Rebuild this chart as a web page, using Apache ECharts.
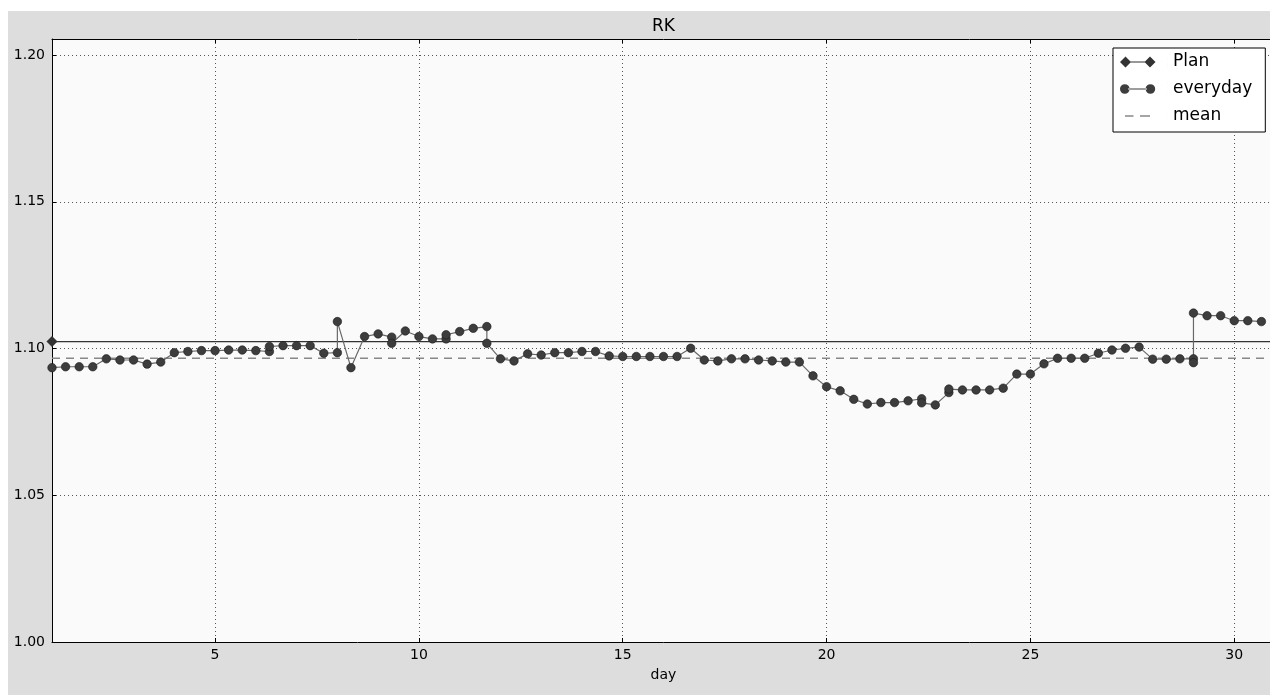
<!DOCTYPE html>
<html>
<head>
<meta charset="utf-8">
<script src="https://cdn.jsdelivr.net/npm/echarts@6/dist/echarts.min.js"></script>
<style>
  html, body { margin: 0; padding: 0; background: #ffffff; width: 1270px; height: 695px; overflow: hidden; position: relative; }
  #chart { position: absolute; left: 8px; top: 11px; width: 1267px; height: 684px; background: #dddddd; }
</style>
</head>
<body>
<div id="chart"></div>
<script>
// ---- data ----
const days = [
  1.000, 1.333, 1.667, 2.000, 2.333, 2.667, 3.000, 3.333, 3.667, 4.000,
  4.333, 4.667, 5.000, 5.333, 5.667, 6.000, 6.333, 6.333, 6.667, 7.000,
  7.333, 7.667, 8.000, 8.000, 8.333, 8.667, 9.000, 9.333, 9.333, 9.667,
  10.000, 10.333, 10.667, 10.667, 11.000, 11.333, 11.667, 11.667, 12.000, 12.333,
  12.667, 13.000, 13.333, 13.667, 14.000, 14.333, 14.667, 15.000, 15.333, 15.667,
  16.000, 16.333, 16.667, 17.000, 17.333, 17.667, 18.000, 18.333, 18.667, 19.000,
  19.333, 19.667, 20.000, 20.333, 20.667, 21.000, 21.333, 21.667, 22.000, 22.333,
  22.333, 22.667, 23.000, 23.000, 23.333, 23.667, 24.000, 24.333, 24.667, 25.000,
  25.333, 25.667, 26.000, 26.333, 26.667, 27.000, 27.333, 27.667, 28.000, 28.333,
  28.667, 29.000, 29.000, 29.000, 29.333, 29.667, 30.000, 30.333, 30.667
];
const everyday = [
  1.0935, 1.0938, 1.0938, 1.0938, 1.0965, 1.0961, 1.0961, 1.0947, 1.0954, 1.0986,
  1.0990, 1.0993, 1.0993, 1.0995, 1.0995, 1.0993, 1.0990, 1.1007, 1.1010, 1.1010,
  1.1010, 1.0984, 1.0986, 1.1092, 1.0935, 1.1041, 1.1050, 1.1039, 1.1018, 1.1060,
  1.1041, 1.1033, 1.1033, 1.1047, 1.1058, 1.1069, 1.1075, 1.1018, 1.0965, 1.0958,
  1.0982, 1.0978, 1.0986, 1.0986, 1.0990, 1.0990, 1.0975, 1.0973, 1.0973, 1.0973,
  1.0973, 1.0973, 1.1001, 1.0961, 1.0958, 1.0965, 1.0965, 1.0961, 1.0958, 1.0954,
  1.0954, 1.0907, 1.0870, 1.0856, 1.0827, 1.0811, 1.0816, 1.0816, 1.0822, 1.0829,
  1.0815, 1.0808, 1.0850, 1.0862, 1.0859, 1.0859, 1.0859, 1.0865, 1.0913, 1.0913,
  1.0948, 1.0967, 1.0967, 1.0967, 1.0984, 1.0995, 1.1001, 1.1005, 1.0964, 1.0964,
  1.0965, 1.0965, 1.0952, 1.1121, 1.1112, 1.1112, 1.1095, 1.1095, 1.1092
];
const planDays = [1, 31];
const planValues = [1.1024, 1.1024];
const meanDays = [1, 31];
const meanValues = [1.0967, 1.0967];
const xTicks = [5, 10, 15, 20, 25, 30];
const yTicks = [1.00, 1.05, 1.10, 1.15, 1.20];
const xRange = [1, 31];
const yRange = [1.0, 1.2055];

// ---- build chart ----
const zip = (a, b) => a.map((v, i) => [v, b[i]]);
const FONT = 'DejaVu Sans';
const dotted = { color: '#555', width: 1, type: [1, 3] };

const iconPlan = 'path://M0,7 L5.5,1.5 L11,7 L5.5,12.5 Z M24.5,7 L30,1.5 L35.5,7 L30,12.5 Z M10,6.4 L26,6.4 L26,7.6 L10,7.6 Z M0,0 L0.01,0 L0.01,0.01 Z M47.99,0 L48,0 L48,14 L47.99,14 Z';
const iconEvery = 'path://M0,7 A4.8,4.8 0 1,0 9.6,7 A4.8,4.8 0 1,0 0,7 Z M25.6,7 A4.8,4.8 0 1,0 35.2,7 A4.8,4.8 0 1,0 25.6,7 Z M8,6.4 L27,6.4 L27,7.6 L8,7.6 Z M0,0 L0.01,0 L0.01,0.01 Z M47.99,0 L48,0 L48,14 L47.99,14 Z';
const iconMean = 'path://M5,6.3 L13.5,6.3 L13.5,7.7 L5,7.7 Z M20,6.3 L30,6.3 L30,7.7 L20,7.7 Z M0,0 L0.01,0 L0.01,0.01 Z M47.99,0 L48,0 L48,14 L47.99,14 Z';

const chart = echarts.init(document.getElementById('chart'), null, { renderer: 'canvas' });
chart.setOption({
  animation: false,
  backgroundColor: '#dddddd',
  textStyle: { fontFamily: FONT },
  title: {
    text: 'RK',
    left: 644,
    top: 6,
    padding: 0,
    textStyle: { fontFamily: FONT, fontSize: 17, fontWeight: 'normal', color: '#000', lineHeight: 20 }
  },
  legend: {
    orient: 'vertical',
    left: 1105,
    top: 37,
    padding: [5, 13, 7, 7],
    itemGap: 9,
    itemWidth: 48,
    itemHeight: 14,
    backgroundColor: '#ffffff',
    borderColor: '#000',
    borderWidth: 1,
    borderRadius: 0,
    itemStyle: { borderWidth: 0 },
    textStyle: { fontFamily: FONT, fontSize: 17, color: '#000', lineHeight: 18 },
    data: [
      { name: 'Plan', icon: iconPlan },
      { name: 'everyday', icon: iconEvery },
      { name: 'mean', icon: iconMean }
    ]
  },
  grid: {
    left: 44, top: 28, right: 0, bottom: 53,
    show: true, backgroundColor: '#fafafa', borderWidth: 0, containLabel: false
  },
  xAxis: [
    {
      type: 'value', position: 'bottom', min: xRange[0], max: xRange[1],
      name: 'day', nameLocation: 'middle', nameGap: 26,
      nameTextStyle: { fontFamily: FONT, fontSize: 14, color: '#000' },
      axisLine: { show: true, lineStyle: { color: '#000', width: 1 } },
      axisTick: { show: true, inside: true, length: 4, customValues: xTicks, lineStyle: { color: '#000' } },
      axisLabel: { show: true, customValues: xTicks, margin: 6, fontFamily: FONT, fontSize: 14, color: '#000' },
      splitLine: { show: true, lineStyle: dotted }
    },
    {
      type: 'value', position: 'top', min: xRange[0], max: xRange[1],
      axisLine: { show: true, lineStyle: { color: '#000', width: 1 } },
      axisTick: { show: true, inside: true, length: 4, customValues: xTicks, lineStyle: { color: '#000' } },
      axisLabel: { show: false },
      splitLine: { show: false }
    }
  ],
  yAxis: {
    type: 'value', min: yRange[0], max: yRange[1], interval: 0.05,
    axisLine: { show: true, lineStyle: { color: '#000', width: 1 } },
    axisTick: { show: true, inside: true, length: 4, customValues: yTicks, lineStyle: { color: '#000' } },
    axisLabel: { show: true, customValues: yTicks, margin: 7, fontFamily: FONT, fontSize: 14, color: '#000',
                 formatter: v => v.toFixed(2) },
    splitLine: { show: true, lineStyle: dotted }
  },
  series: [
    {
      name: 'mean', type: 'line', z: 2,
      data: zip(meanDays, meanValues),
      symbol: 'none',
      itemStyle: { color: '#888888' },
      lineStyle: { color: '#888888', width: 1.5, type: [8, 6] }
    },
    {
      name: 'Plan', type: 'line', z: 3,
      data: zip(planDays, planValues),
      symbol: 'diamond', symbolSize: 11,
      itemStyle: { color: '#333333' },
      lineStyle: { color: '#333333', width: 1.3 }
    },
    {
      name: 'everyday', type: 'line', z: 4,
      data: zip(days, everyday),
      symbol: 'circle', symbolSize: 8.5,
      itemStyle: { color: '#3d3d3d', borderColor: '#1a1a1a', borderWidth: 0.6 },
      lineStyle: { color: '#686868', width: 1.2 }
    }
  ]
});
</script>
</body>
</html>
